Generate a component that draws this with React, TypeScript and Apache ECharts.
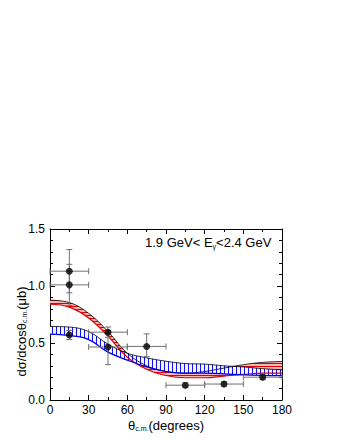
import React, { useEffect, useRef } from "react";
import * as echarts from "echarts";

const angles = [0, 15, 30, 45, 60, 75, 90, 105, 120, 135, 150, 165, 180];
const redUpper = [0.875, 0.855, 0.76, 0.6, 0.41, 0.3, 0.25, 0.235, 0.25, 0.28, 0.31, 0.33, 0.338];
const redLower = [0.84, 0.815, 0.72, 0.56, 0.375, 0.27, 0.215, 0.195, 0.195, 0.21, 0.225, 0.235, 0.236];
const blueUpper = [0.645, 0.64, 0.6, 0.49, 0.41, 0.37, 0.34, 0.32, 0.315, 0.3, 0.29, 0.275, 0.265];
const blueLower = [0.578, 0.565, 0.53, 0.42, 0.35, 0.29, 0.25, 0.235, 0.235, 0.23, 0.22, 0.215, 0.213];

// data points: x, y, x-low, x-high, y-low, y-high
const ptX = [15, 15, 15, 45, 45, 75, 105, 135, 165];
const ptY = [1.13, 1.01, 0.57, 0.595, 0.465, 0.47, 0.13, 0.14, 0.2];
const ptXLo = [0, 0, 15, 30, 30, 60, 90, 120, 150];
const ptXHi = [30, 30, 15, 60, 60, 90, 120, 150, 180];
const ptYLo = [0.94, 0.83, 0.53, 0.55, 0.31, 0.38, 0.11, 0.12, 0.18];
const ptYHi = [1.32, 1.19, 0.61, 0.64, 0.61, 0.58, 0.15, 0.16, 0.22];

const xTicks = [0, 30, 60, 90, 120, 150, 180];
const yTicks = [0, 0.5, 1.0, 1.5];

const FONT = "Liberation Sans, Arial, sans-serif";

export default function App() {
  const ref = useRef<HTMLDivElement>(null);
  useEffect(() => {
    document.body.style.margin = "0";
    const chart = echarts.init(ref.current!, null, { renderer: "svg" });
    const rich = {
      a: { fontSize: 13, fontFamily: FONT, color: "#000", lineHeight: 13, verticalAlign: "middle" },
      s: { fontSize: 7, fontFamily: FONT, color: "#000", lineHeight: 3, verticalAlign: "bottom" },
    };
    const titleRich = {
      a: { fontSize: 13, fontFamily: FONT, color: "#000", lineHeight: 14, verticalAlign: "middle" },
      s: { fontSize: 7, fontFamily: FONT, color: "#000", lineHeight: 5, verticalAlign: "bottom" },
    };
    const axisCommon = {
      type: "value",
      axisLine: { show: true, onZero: false, lineStyle: { color: "#000", width: 1 } },
      axisTick: { show: true, inside: true, length: 5, lineStyle: { color: "#000" } },
      minorTick: { show: true, length: 3, lineStyle: { color: "#000" } },
      splitLine: { show: false },
    };
    const errData = ptX.map((x, i) => [x, ptY[i], ptXLo[i], ptXHi[i], ptYLo[i], ptYHi[i]]);
    // value first so that stacking happens on the y dimension
    const bandSeries = (name: string, lower: number[], upper: number[], lowColor: string, fill: string, decal: any) => [
      {
        name: name + "Low",
        type: "line",
        stack: name,
        smooth: 0.4,
        symbol: "none",
        encode: { x: 1, y: 0 },
        data: angles.map((a, i) => [lower[i], a]),
        lineStyle: { color: lowColor, width: 1.2 },
        z: 2,
      },
      {
        name: name + "Up",
        type: "line",
        stack: name,
        smooth: 0.4,
        symbol: "none",
        encode: { x: 1, y: 0 },
        data: angles.map((a, i) => [upper[i] - lower[i], a]),
        lineStyle: { color: "#000", width: 0.8 },
        itemStyle: { color: fill, decal },
        areaStyle: { color: fill, opacity: 1, decal },
        z: 2,
      },
    ];
    chart.setOption({
      animation: false,
      backgroundColor: "#fff",
      grid: { left: 50, right: 58, top: 229, bottom: 40, containLabel: false, outerBoundsMode: "none" },
      xAxis: [
        {
          ...axisCommon,
          min: 0,
          max: 180,
          interval: 30,
          minorTick: { ...axisCommon.minorTick, splitNumber: 2 },
          axisLabel: { color: "#000", fontSize: 12, lineHeight: 12, fontFamily: FONT, margin: 4, formatter: (v: number) => (xTicks.includes(v) ? String(v) : "") },
          name: "{a|θ}{s|c.m.}{a|(degrees)}",
          nameLocation: "middle",
          nameGap: 19,
          nameMoveOverlap: false,
          nameTextStyle: { rich },
        },
        {
          ...axisCommon,
          position: "top",
          min: 0,
          max: 180,
          interval: 30,
          minorTick: { ...axisCommon.minorTick, splitNumber: 2 },
          axisLabel: { show: false },
        },
      ],
      yAxis: [
        {
          ...axisCommon,
          min: 0,
          max: 1.5,
          interval: 0.5,
          minorTick: { ...axisCommon.minorTick, splitNumber: 5 },
          axisLabel: { color: "#000", fontSize: 12, fontFamily: FONT, margin: 5, formatter: (v: number) => (yTicks.includes(v) ? v.toFixed(1) : "") },
          name: "{a|dσ/dcosθ}{s|c.m.}{a|(μb)}",
          nameLocation: "middle",
          nameGap: 22,
          nameMoveOverlap: false,
          nameTextStyle: { rich, padding: [0, 34, 0, 0] },
        },
        {
          ...axisCommon,
          position: "right",
          min: 0,
          max: 1.5,
          interval: 0.5,
          minorTick: { ...axisCommon.minorTick, splitNumber: 5 },
          axisLabel: { show: false },
        },
      ],
      graphic: [
        {
          type: "text",
          left: 145,
          top: 236,
          z: 100,
          style: {
            text: "{a|1.9 GeV< E}{s|γ}{a|<2.4 GeV}",
            rich: titleRich,
          },
        },
      ],
      series: [
        ...bandSeries("red", redLower, redUpper, "#e00000", "#f8b8b8", {
          symbol: "rect",
          symbolSize: 1,
          dashArrayX: [1, 0],
          dashArrayY: [1, 2],
          color: "#e00000",
        }),
        ...bandSeries("blue", blueLower, blueUpper, "#0000e0", "#f2f4ff", {
          symbol: "rect",
          symbolSize: 1,
          dashArrayX: [1, 2.5],
          dashArrayY: [1, 0],
          color: "#1010f0",
        }),
        {
          type: "custom",
          data: errData,
          encode: { x: [0, 2, 3], y: [1, 4, 5] },
          z: 5,
          renderItem: (params: any, api: any) => {
            const x = api.value(0);
            const y = api.value(1);
            const xlo = api.value(2);
            const xhi = api.value(3);
            const ylo = api.value(4);
            const yhi = api.value(5);
            const style = { stroke: "#707070", lineWidth: 1 };
            const children: any[] = [];
            const cap = 3;
            if (xhi > xlo) {
              const a = api.coord([xlo, y]);
              const b = api.coord([xhi, y]);
              children.push({ type: "line", shape: { x1: a[0], y1: a[1], x2: b[0], y2: b[1] }, style });
              children.push({ type: "line", shape: { x1: a[0], y1: a[1] - cap, x2: a[0], y2: a[1] + cap }, style });
              children.push({ type: "line", shape: { x1: b[0], y1: b[1] - cap, x2: b[0], y2: b[1] + cap }, style });
            }
            const c = api.coord([x, ylo]);
            const d = api.coord([x, yhi]);
            children.push({ type: "line", shape: { x1: c[0], y1: c[1], x2: d[0], y2: d[1] }, style });
            children.push({ type: "line", shape: { x1: c[0] - cap, y1: c[1], x2: c[0] + cap, y2: c[1] }, style });
            children.push({ type: "line", shape: { x1: d[0] - cap, y1: d[1], x2: d[0] + cap, y2: d[1] }, style });
            return { type: "group", children };
          },
        },
        {
          type: "scatter",
          data: ptX.map((x, i) => [x, ptY[i]]),
          symbol: "circle",
          symbolSize: 7,
          itemStyle: { color: "#000" },
          z: 6,
        },
      ],
    });
    return () => chart.dispose();
  }, []);
  return <div ref={ref} style={{ width: 340, height: 440 }} />;
}
